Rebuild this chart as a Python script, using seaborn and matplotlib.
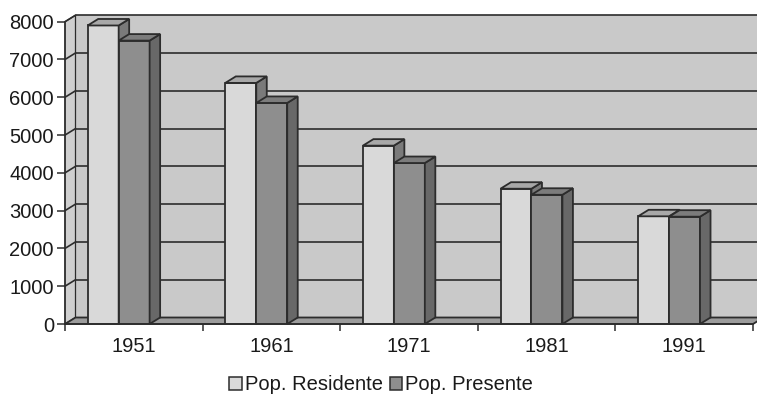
import numpy as np
import pandas as pd
import matplotlib
matplotlib.use("Agg")
import matplotlib.pyplot as plt
from matplotlib.patches import Polygon, Patch
import seaborn as sns

# Census population by year
anni = ["1951", "1961", "1971", "1981", "1991"]
residente = [7900, 6380, 4720, 3580, 2850]
presente = [7500, 5850, 4260, 3420, 2840]
serie = ["Pop. Residente", "Pop. Presente"]
y_ticks = [0, 1000, 2000, 3000, 4000, 5000, 6000, 7000, 8000]

df = pd.DataFrame({
    "Anno": anni * 2,
    "Serie": [serie[0]] * len(anni) + [serie[1]] * len(anni),
    "Pop": residente + presente,
})

sns.set_style("ticks")
plt.rcParams["font.family"] = ["Liberation Sans", "DejaVu Sans"]

# colours
c_wall = "#c9c9c9"
c_floor = "#9c9c9c"
c_res = "#d9d9d9"
c_pre = "#8e8e8e"
c_res_side = "#7a7a7a"
c_pre_side = "#686868"
c_res_top = "#a8a8a8"
c_pre_top = "#7c7c7c"
edge = "#2c2c2c"
txt = "#1a1a1a"
fs = 14.5
lw = 1.3

W, H = 757, 405
fig = plt.figure(figsize=(W / 100, H / 100), dpi=100)
px_left, px_right, px_bottom, px_top = 65, 753, 324, 21.7
ax = fig.add_axes([px_left / W, (H - px_bottom) / H,
                   (px_right - px_left) / W, (px_bottom - px_top) / H])
ax.patch.set_visible(False)

sns.barplot(data=df, x="Anno", y="Pop", hue="Serie", hue_order=serie,
            palette=[c_res, c_pre], saturation=1, width=0.45,
            edgecolor=edge, linewidth=lw, legend=False, ax=ax)

ymax = y_ticks[-1]
xl, xr = -0.39, len(anni) - 0.39
ax.set_xlim(xl, xr)
ax.set_ylim(0, ymax)

# depth offset of the 3D box, in data units
px_per_x = (px_right - px_left) / (xr - xl)
px_per_y = (px_bottom - px_top) / ymax
dx = 10.5 / px_per_x
dy = 6.5 / px_per_y

# back wall, side wall and floor
ax.add_patch(Polygon([(xl + dx, dy), (xr + dx, dy), (xr + dx, ymax + dy), (xl + dx, ymax + dy)],
                     closed=True, facecolor=c_wall, edgecolor="none", zorder=0.5, clip_on=False))
ax.add_patch(Polygon([(xl, 0), (xl + dx, dy), (xl + dx, ymax + dy), (xl, ymax)],
                     closed=True, facecolor="#cfcfcf", edgecolor=edge, linewidth=0.9,
                     zorder=0.6, clip_on=False))
ax.add_patch(Polygon([(xl, 0), (xr, 0), (xr + dx, dy), (xl + dx, dy)],
                     closed=True, facecolor=c_floor, edgecolor=edge, linewidth=lw,
                     zorder=0.7, clip_on=False))

# gridlines on the walls
for v in y_ticks[1:]:
    ax.plot([xl + dx, xr + dx], [v + dy, v + dy], color=edge, linewidth=1.2,
            zorder=0.8, clip_on=False)
    ax.plot([xl, xl + dx], [v, v + dy], color=edge, linewidth=1.2,
            zorder=0.8, clip_on=False)

# 3D top and side faces for every bar
sides = [c_res_side, c_pre_side]
tops = [c_res_top, c_pre_top]
for k, cont in enumerate(ax.containers):
    for bar in cont:
        x, w, h = bar.get_x(), bar.get_width(), bar.get_height()
        bar.set_zorder(3 + k)
        ax.add_patch(Polygon([(x + w, 0), (x + w + dx, dy), (x + w + dx, h + dy), (x + w, h)],
                             closed=True, facecolor=sides[k], edgecolor=edge, linewidth=lw,
                             zorder=3.2 + k, clip_on=False))
        ax.add_patch(Polygon([(x, h), (x + w, h), (x + w + dx, h + dy), (x + dx, h + dy)],
                             closed=True, facecolor=tops[k], edgecolor=edge, linewidth=lw,
                             zorder=3.2 + k, clip_on=False))

# axes and ticks
sns.despine(ax=ax, top=True, right=True)
for s in ("left", "bottom"):
    ax.spines[s].set_color(edge)
    ax.spines[s].set_linewidth(1.1)
    ax.spines[s].set_zorder(6)

centers = np.arange(len(anni)) + 0.11
bounds = np.arange(len(anni) + 1) - 0.39
ax.set_xticks(bounds)
ax.set_xticklabels([])
ax.set_xticks(centers, minor=True)
ax.set_xticklabels(anni, minor=True)
ax.tick_params(axis="x", which="major", length=5, width=1.1, color=edge, direction="out")
ax.tick_params(axis="x", which="minor", length=0, pad=9, labelsize=fs, labelcolor=txt)

ax.set_yticks(y_ticks)
ax.set_yticklabels([str(v) for v in y_ticks])
ax.tick_params(axis="y", length=6, width=1.1, color=edge, direction="out", pad=2,
               labelsize=fs, labelcolor=txt)
ax.set_xlabel("")
ax.set_ylabel("")

handles = [Patch(facecolor=c_res, edgecolor=edge, linewidth=1.1),
           Patch(facecolor=c_pre, edgecolor=edge, linewidth=1.1)]
leg = fig.legend(handles, serie, loc="center", bbox_to_anchor=(381 / W, 1 - 385 / H),
                 ncol=2, frameon=False, handlelength=0.6, handleheight=0.6,
                 handletextpad=0.15, columnspacing=0.35, fontsize=fs, borderpad=0)
for t in leg.get_texts():
    t.set_color(txt)

fig.savefig("out.png", dpi=100, facecolor="white")
